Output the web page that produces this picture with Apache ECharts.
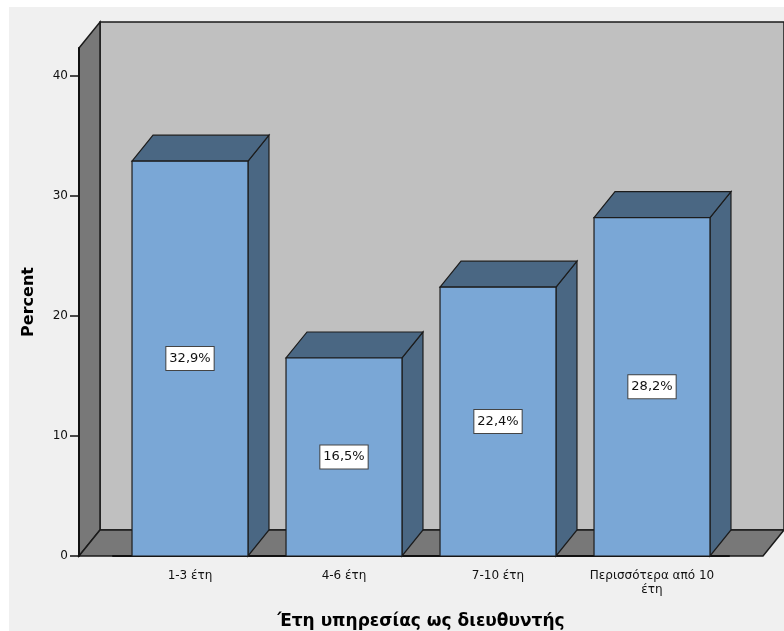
<!DOCTYPE html>
<html>
<head>
<meta charset="utf-8">
<script src="https://cdn.jsdelivr.net/npm/echarts@6/dist/echarts.min.js"></script>
<style>
  html, body { margin: 0; padding: 0; background: #fff; }
  #main { width: 784px; height: 631px; }
</style>
</head>
<body>
<div id="main"></div>
<script>
// data
var categories = ['1-3 έτη', '4-6 έτη', '7-10 έτη', 'Περισσότερα από 10\nέτη'];
var percents = [32.9, 16.5, 22.4, 28.2];
var yTicks = [0, 10, 20, 30, 40];

// fake 3d layout
var DX = 21, DY = 26;          // depth offset of walls and bars
var SIDE_PAD = 34;             // floor sticks out past the outer bands
var Y_MAX = 42.33;             // top of the left wall
var BAR_RATIO = 0.753;
var FONT = '"DejaVu Sans", Verdana, sans-serif';
var grid = { left: 113, right: 55, top: 48, bottom: 75, outerBoundsMode: 'none', containLabel: false };

var chart = echarts.init(document.getElementById('main'));

function fmt(v) {
  return v.toFixed(1).replace('.', ',') + '%';
}

chart.setOption({
  animation: false,
  textStyle: { fontFamily: FONT },
  grid: grid,
  xAxis: {
    type: 'category',
    data: categories,
    name: 'Έτη υπηρεσίας ως διευθυντής',
    nameLocation: 'middle',
    nameGap: 57,
    nameTextStyle: { fontSize: 17, fontWeight: 'bold', color: '#000', fontFamily: FONT },
    axisLine: { lineStyle: { color: '#111', width: 2 } },
    axisTick: { alignWithLabel: true, length: 8, lineStyle: { color: '#111', width: 2 } },
    axisLabel: { color: '#111', fontSize: 12, margin: 13, lineHeight: 14, interval: 0, fontFamily: FONT }
  },
  yAxis: {
    type: 'value',
    min: 0,
    max: Y_MAX,
    offset: SIDE_PAD,
    name: 'Percent',
    nameLocation: 'middle',
    nameGap: 42,
    nameTextStyle: { fontSize: 16, fontWeight: 'bold', color: '#000', fontFamily: FONT },
    splitLine: { show: false },
    axisLine: { show: true, lineStyle: { color: '#111', width: 2 } },
    axisTick: { show: true, length: 9, customValues: yTicks, lineStyle: { color: '#111', width: 1.5 } },
    axisLabel: { color: '#111', fontSize: 12, margin: 11, customValues: yTicks, fontFamily: FONT }
  },
  series: [{
    type: 'custom',
    data: percents.map(function (v, i) { return [i, v]; }),
    encode: { x: 0, y: 1 },
    renderItem: function (params, api) {
      var v = api.value(1);
      var top = api.coord([api.value(0), v]);
      var base = api.coord([api.value(0), 0]);
      var half = api.size([1, 0])[0] * BAR_RATIO / 2;
      var x0 = top[0] - half, x1 = top[0] + half;
      var yt = top[1], yb = base[1];
      var dark = { fill: '#4a6783', stroke: '#1c1c1c', lineWidth: 1.2 };
      return {
        type: 'group',
        children: [
          { type: 'polygon', shape: { points: [[x1, yt], [x1 + DX, yt - DY], [x1 + DX, yb - DY], [x1, yb]] }, style: dark },
          { type: 'polygon', shape: { points: [[x0, yt], [x0 + DX, yt - DY], [x1 + DX, yt - DY], [x1, yt]] }, style: dark },
          { type: 'rect', shape: { x: x0, y: yt, width: x1 - x0, height: yb - yt },
            style: { fill: '#7aa7d6', stroke: '#1c1c1c', lineWidth: 1.2 } },
          { type: 'text', x: top[0], y: (yt + yb) / 2,
            style: { text: fmt(v), align: 'center', verticalAlign: 'middle', fontSize: 13, fontFamily: FONT,
                     fill: '#111', backgroundColor: '#fff', borderColor: '#444', borderWidth: 1, padding: [5, 3] } }
        ]
      };
    }
  }]
});

// walls and floor, placed from the axes
var y0 = chart.convertToPixel({ yAxisIndex: 0 }, 0);
var yT = chart.convertToPixel({ yAxisIndex: 0 }, Y_MAX);
var fl = grid.left - SIDE_PAD;
var fr = 784 - grid.right + SIDE_PAD;
var edge = { stroke: '#1a1a1a', lineWidth: 1.5 };

chart.setOption({
  graphic: [
    { type: 'rect', z: -100, shape: { x: 9, y: 7, width: 775, height: 624 }, style: { fill: '#f0f0f0' } },
    { type: 'polygon', z: -90,
      shape: { points: [[fl + DX, yT - DY], [fr + DX, yT - DY], [fr + DX, y0 - DY], [fl + DX, y0 - DY]] },
      style: Object.assign({ fill: '#c0c0c0' }, edge) },
    { type: 'polygon', z: -80,
      shape: { points: [[fl, yT], [fl + DX, yT - DY], [fl + DX, y0 - DY], [fl, y0]] },
      style: Object.assign({ fill: '#787878' }, edge) },
    { type: 'polygon', z: -80,
      shape: { points: [[fl, y0], [fl + DX, y0 - DY], [fr + DX, y0 - DY], [fr, y0]] },
      style: Object.assign({ fill: '#787878' }, edge) }
  ]
});
</script>
</body>
</html>
